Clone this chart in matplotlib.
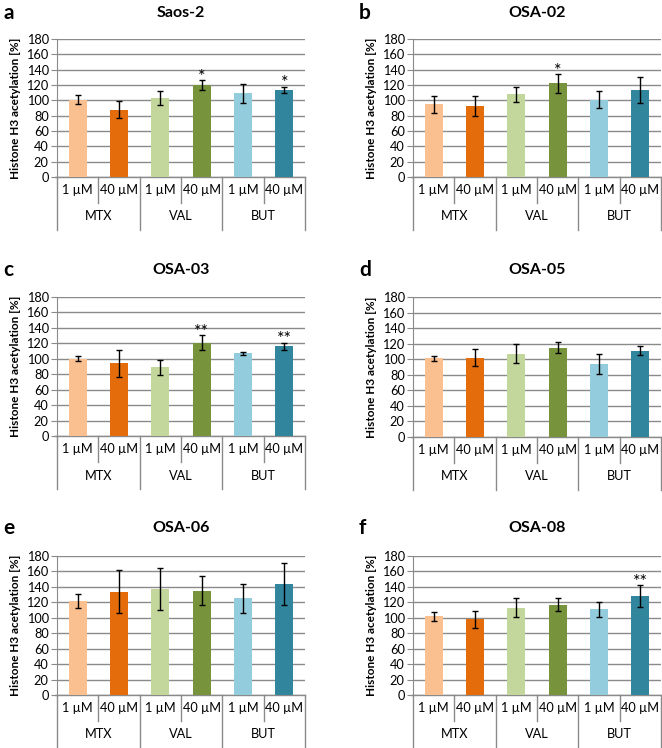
import matplotlib
matplotlib.use('Agg')
import matplotlib.pyplot as plt
from matplotlib.transforms import blended_transform_factory

plt.rcParams['font.family'] = ['Lato', 'DejaVu Sans']

# Data
doses = ['1 µM', '40 µM', '1 µM', '40 µM', '1 µM', '40 µM']
drugs = ['MTX', 'VAL', 'BUT']
colors = ['#FAC090', '#E46C0A', '#C3D69B', '#77933C', '#93CDDD', '#31859C']
yticks = [0, 20, 40, 60, 80, 100, 120, 140, 160, 180]

titles = ['Saos-2', 'OSA-02', 'OSA-03', 'OSA-05', 'OSA-06', 'OSA-08']
letters = ['a', 'b', 'c', 'd', 'e', 'f']

saos2_mean = [101, 88, 103, 120, 109, 114]
saos2_err = [5.5, 11, 9, 7, 12, 4]
saos2_sig = ['', '', '', '*', '', '*']

osa02_mean = [95, 93, 108, 122, 101, 114]
osa02_err = [11, 13, 10, 12, 11, 17]
osa02_sig = ['', '', '', '*', '', '']

osa03_mean = [100, 94, 89, 121, 107, 116]
osa03_err = [3, 17, 10, 9.5, 2, 5]
osa03_sig = ['', '', '', '**', '', '**']

osa05_mean = [101, 102, 107, 115, 94, 111]
osa05_err = [3, 11, 12, 7, 13, 6]
osa05_sig = ['', '', '', '', '', '']

osa06_mean = [122, 134, 137, 135, 125, 144]
osa06_err = [9, 28, 27, 19, 19, 27]
osa06_sig = ['', '', '', '', '', '']

osa08_mean = [102, 98, 113, 117, 111, 128]
osa08_err = [6, 11, 12, 8, 10, 14]
osa08_sig = ['', '', '', '', '', '**']

means = [saos2_mean, osa02_mean, osa03_mean, osa05_mean, osa06_mean, osa08_mean]
errs = [saos2_err, osa02_err, osa03_err, osa05_err, osa06_err, osa08_err]
sigs = [saos2_sig, osa02_sig, osa03_sig, osa05_sig, osa06_sig, osa08_sig]

# panel plot areas in pixels: left, top, right, bottom
boxes = [(57, 39, 305, 177), (413, 39, 661, 177),
         (57, 297, 305, 436), (413, 297, 661, 437),
         (57, 556, 305, 695), (413, 556, 661, 695)]
title_y = [13, 13, 270, 270, 528, 528]

W, H = 662, 748
fig = plt.figure(figsize=(W / 100, H / 100), dpi=100)
grid_col = '#8a8a8a'

for k in range(6):
    l, t, r, b = boxes[k]
    ax = fig.add_axes([l / W, 1 - b / H, (r - l) / W, (b - t) / H])
    x = list(range(6))
    ax.bar(x, means[k], width=0.43, color=colors, zorder=3)
    ax.errorbar(x, means[k], yerr=errs[k], fmt='none', ecolor='black',
                elinewidth=1, capsize=2.5, capthick=1, zorder=4)
    for i in x:
        if sigs[k][i]:
            ax.text(i, means[k][i] + errs[k][i] + 4, sigs[k][i], ha='center',
                    va='center', fontsize=13, zorder=5)
    ax.set_xlim(-0.5, 5.5)
    ax.set_ylim(0, 180)
    ax.set_yticks(yticks)
    ax.set_xticks([])
    ax.yaxis.grid(True, color=grid_col, linewidth=1)
    ax.set_axisbelow(True)
    for s in ['top', 'right', 'bottom']:
        ax.spines[s].set_visible(False)
    ax.spines['left'].set_color(grid_col)
    ax.tick_params(axis='y', length=4, color=grid_col, labelsize=9.2, pad=2)
    ax.set_ylabel('Histone H3 acetylation [%]', fontsize=8.5, fontweight='bold',
                  labelpad=4)
    fig.text((l + r) / 2 / W, 1 - title_y[k] / H, titles[k], fontsize=11.5,
             fontweight='bold', ha='center', va='center')
    fig.text((l - 54) / W, 1 - title_y[k] / H, letters[k],
             fontsize=15, fontweight='bold', ha='left', va='center')

    # category axis below the plot
    hp = b - t
    r1 = 26 / hp
    r2 = 53 / hp
    tr = blended_transform_factory(ax.transData, ax.transAxes)
    ax.plot([-0.5, 5.5], [0, 0], color=grid_col, lw=1, transform=tr, clip_on=False)
    ax.plot([-0.5, -0.5], [0, -r2], color=grid_col, lw=1, transform=tr, clip_on=False)
    ax.plot([5.5, 5.5], [0, -r2], color=grid_col, lw=1, transform=tr, clip_on=False)
    ax.plot([-0.55, -0.5], [0, 0], color=grid_col, lw=1, transform=tr, clip_on=False)
    for i in range(1, 6):
        bottom = -r2 if i % 2 == 0 else -r1
        ax.plot([i - 0.5, i - 0.5], [0, bottom], color=grid_col, lw=1,
                transform=tr, clip_on=False)
    for i in range(6):
        ax.text(i, -r1 / 2, doses[i], ha='center', va='center', fontsize=9.2,
                transform=tr)
    for j in range(3):
        ax.text(2 * j + 0.5, -(r1 + r2) / 2, drugs[j], ha='center', va='center',
                fontsize=9.2, transform=tr)

fig.savefig('out.png', dpi=100)
